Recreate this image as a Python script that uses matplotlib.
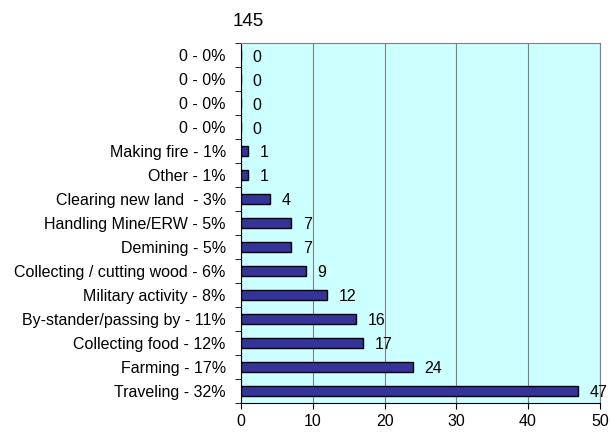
import matplotlib.pyplot as plt

plt.rcParams['font.family'] = ['Liberation Sans', 'DejaVu Sans']

# Données (du haut vers le bas)
labels = ["0 - 0%", "0 - 0%", "0 - 0%", "0 - 0%", "Making fire - 1%", "Other - 1%",
          "Clearing new land  - 3%", "Handling Mine/ERW - 5%", "Demining - 5%",
          "Collecting / cutting wood - 6%", "Military activity - 8%",
          "By-stander/passing by - 11%", "Collecting food - 12%", "Farming - 17%",
          "Traveling - 32%"]
values = [0, 0, 0, 0, 1, 1, 4, 7, 7, 9, 12, 16, 17, 24, 47]
xticks = [0, 10, 20, 30, 40, 50]
title = "145"

fs = 11.5

fig = plt.figure(figsize=(6.12, 4.36), dpi=100)
ax = fig.add_axes([0.394, 0.076, 0.586, 0.825])
ax.set_facecolor("#ccffff")

n = len(values)
ypos = list(range(n - 1, -1, -1))
ax.barh(ypos, values, height=0.42, color="#333399", edgecolor="black", linewidth=1, zorder=3)

for y, v in zip(ypos, values):
    ax.text(v + 1.6, y - 0.08, str(v), va="center", ha="left", fontsize=fs, zorder=4)

ax.set_xlim(0, 50)
ax.set_ylim(-0.5, n - 0.5)
ax.set_xticks(xticks)
ax.set_yticks(ypos)
ax.set_yticklabels(labels, fontsize=fs)
ax.tick_params(axis="y", length=0, pad=11)
ax.set_yticks([i + 0.5 for i in range(-1, n)], minor=True)
ax.tick_params(axis="y", which="minor", length=4, direction="out")
ax.tick_params(axis="x", labelsize=fs, length=4, pad=4)

ax.xaxis.grid(True, color="#808080", linewidth=0.8, zorder=0)
ax.set_axisbelow(True)

for s in ["top", "right"]:
    ax.spines[s].set_color("#808080")
ax.spines["left"].set_color("black")
ax.spines["bottom"].set_color("black")

fig.text(248 / 612, 1 - 22 / 436, title, ha="center", va="center", fontsize=13.5)

plt.savefig("out.png", dpi=100)
